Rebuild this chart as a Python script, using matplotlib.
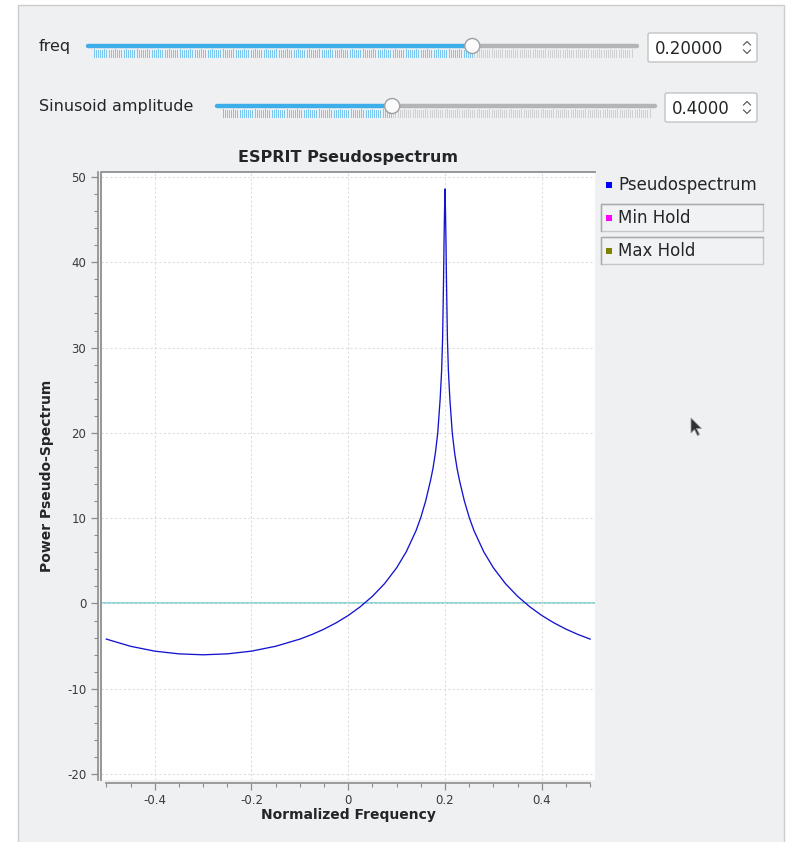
import matplotlib
matplotlib.use('Agg')
from matplotlib import pyplot as plt
from matplotlib.patches import Rectangle, FancyBboxPatch, Circle, Polygon
from matplotlib.collections import LineCollection
from matplotlib.ticker import MultipleLocator

# ESPRIT pseudospectrum (normalized freq, power)
freq = [-0.5, -0.45, -0.4, -0.35, -0.3, -0.25, -0.2, -0.15, -0.1, -0.075,
        -0.05, -0.025, 0.0, 0.025, 0.05, 0.075, 0.1, 0.12, 0.14, 0.15,
        0.16, 0.17, 0.175, 0.18, 0.185, 0.19, 0.193, 0.195, 0.197, 0.198,
        0.199, 0.2, 0.201, 0.202, 0.203, 0.205, 0.207, 0.21, 0.215, 0.22,
        0.225, 0.23, 0.24, 0.25, 0.26, 0.28, 0.3, 0.325, 0.35, 0.375,
        0.4, 0.425, 0.45, 0.475, 0.5]
power = [-4.18, -5.02, -5.59, -5.91, -6.02, -5.91, -5.59, -5.02, -4.18, -3.64,
         -3.01, -2.27, -1.41, -0.38, 0.84, 2.32, 4.18, 6.07, 8.52, 10.09,
         12.02, 14.4, 15.8, 17.6, 20.0, 24.0, 27.3, 31.0, 38.0, 42.5,
         46.0, 48.6, 46.0, 42.5, 38.0, 31.0, 27.3, 24.0, 20.0, 17.6,
         15.8, 14.4, 12.02, 10.09, 8.52, 6.07, 4.18, 2.32, 0.84, -0.38,
         -1.41, -2.27, -3.01, -3.64, -4.18]

legend_names = ['Pseudospectrum', 'Min Hold', 'Max Hold']
legend_colors = ['#0000ff', '#ff00ff', '#808000']

# slider widgets: label, value, range, step, shown text
slider_labels = ['freq', 'Sinusoid amplitude']
slider_values = [0.2, 0.4]
slider_ranges = [(-0.5, 0.5), (0.0, 1.0)]
slider_steps = [0.004, 0.005]
slider_texts = ['0.20000', '0.4000']

W, H = 786, 842
fig = plt.figure(figsize=(W / 100, H / 100), dpi=100, facecolor='white')

# full-window overlay in pixel coordinates for the widget chrome
ui = fig.add_axes([0, 0, 1, 1])
ui.set_xlim(0, W)
ui.set_ylim(H, 0)
ui.axis('off')
ui.set_zorder(0)

ui.add_patch(Rectangle((18, 5), 766, 850, facecolor='#eff0f1',
                       edgecolor='#cbcccd', lw=1.0))

BLUE = '#3daee9'
GREY = '#b4b5b6'

groove = [(88, 637, 46), (217, 655, 106)]
boxes = [(648, 33, 109, 29), (665, 93, 92, 29)]
for i in range(2):
    x0, x1, yg = groove[i]
    lo, hi = slider_ranges[i]
    frac = (slider_values[i] - lo) / (hi - lo)
    xh = x0 + frac * (x1 - x0)
    ui.text(39, yg + 1, slider_labels[i], fontsize=11.5, color='#232627',
            ha='left', va='center')
    # tick comb under the groove, one pixel column per step
    n = int(round((hi - lo) / slider_steps[i]))
    tx0, tx1 = x0 + 5, x1 - 6
    segs, cols = [], []
    for k in range(n + 1):
        tx = int(tx0 + k * (tx1 - tx0) / n) + 0.5
        top = yg + 4 if k % 5 else yg + 3
        segs.append([(tx, top), (tx, yg + 11)])
        cols.append('#7cc6ef' if tx <= xh else '#cfd0d1')
    ui.add_collection(LineCollection(segs, colors=cols, linewidths=0.72,
                                     antialiased=False))
    ui.plot([x0, xh], [yg, yg], color=BLUE, lw=3.2, solid_capstyle='round')
    ui.plot([xh, x1], [yg, yg], color=GREY, lw=3.2, solid_capstyle='round')
    ui.add_patch(Circle((xh, yg), 7.5, facecolor='#fbfbfb',
                        edgecolor='#9fa0a1', lw=1.0, zorder=3))
    bx, by, bw, bh = boxes[i]
    ui.add_patch(FancyBboxPatch((bx, by), bw, bh,
                                boxstyle='round,pad=0,rounding_size=2',
                                facecolor='white', edgecolor='#c2c3c4', lw=1.0))
    ui.text(bx + 7, by + bh / 2 + 1, slider_texts[i], fontsize=12,
            color='#232627', ha='left', va='center')
    cx, cy = bx + bw - 10, by + bh / 2
    ui.plot([cx - 3.5, cx, cx + 3.5], [cy - 2.5, cy - 6, cy - 2.5],
            color='#4d4e4f', lw=0.8)
    ui.plot([cx - 3.5, cx, cx + 3.5], [cy + 2.5, cy + 6, cy + 2.5],
            color='#4d4e4f', lw=0.8)

# legend entries at the right of the canvas
leg_y = [185, 218, 251]
for name, col, ly in zip(legend_names, legend_colors, leg_y):
    if name != legend_names[0]:
        ui.add_patch(Rectangle((600.5, ly - 14), 162.5, 27,
                               facecolor='#f1f2f3', edgecolor='#c6c7c8', lw=1.0))
        ui.plot([600.5, 600.5, 763], [ly + 13, ly - 14, ly - 14],
                color='#a9aaab', lw=1.0)
    ui.add_patch(Rectangle((606, ly - 2.8), 5.5, 5.5, facecolor=col,
                           edgecolor='none'))
    ui.text(618, ly, name, fontsize=12, color='#232627', ha='left',
            va='center')

# mouse pointer
ui.add_patch(Polygon([(691, 418), (691, 433), (694.5, 429.5), (697.5, 435.5),
                      (699.5, 434.5), (696.5, 428.5), (701.5, 428.5)],
                     closed=True, facecolor='#2f3031', edgecolor='#9a9b9c',
                     lw=0.6))

# plot canvas
L, R, T, B = 101, 595, 172, 780
ax = fig.add_axes([L / W, 1 - B / H, (R - L) / W, (B - T) / H])
ax.set_zorder(1)
ax.set_facecolor('white')

ax.plot(freq, power, color='#1414d0', lw=0.95)
ax.axhline(0, color='#7fd1d4', lw=1.3, zorder=1)

ax.set_xlim(-0.511, 0.510)
ax.set_ylim(-20.7, 50.59)

ax.xaxis.set_minor_locator(MultipleLocator(0.05))
ax.yaxis.set_minor_locator(MultipleLocator(2))
ax.set_xticks([-0.4, -0.2, 0, 0.2, 0.4])
ax.set_xticklabels(['-0.4', '-0.2', '0', '0.2', '0.4'])
ax.set_yticks(range(-20, 51, 10))
ax.set_yticklabels([str(v) for v in range(-20, 51, 10)])
ax.grid(True, which='major', color='#dedede', lw=0.8, ls=(0, (2, 2)))

for s in ['top', 'right']:
    ax.spines[s].set_visible(False)
ax.spines['left'].set_position(('outward', 2.2))
ax.spines['bottom'].set_position(('outward', 2.2))
ax.spines['bottom'].set_bounds(-0.5, 0.5)
for s in ['left', 'bottom']:
    ax.spines[s].set_color('#8c8c8c')
    ax.spines[s].set_linewidth(1.2)

# sunken frame on the canvas top and left
ax.plot([0, 0, 1], [0, 1, 1], transform=ax.transAxes, color='#8e8f90',
        lw=1.3, clip_on=False)

ax.tick_params(which='major', direction='out', length=5, width=0.9,
               color='#8c8c8c', labelsize=8.5, labelcolor='#3a3a3a', pad=3)
ax.tick_params(which='minor', direction='out', length=3, width=0.8,
               color='#8c8c8c')
ax.tick_params(axis='y', which='major', pad=3.5)

ax.set_title('ESPRIT Pseudospectrum', fontsize=11.5, fontweight='bold',
             color='#232627', pad=7)
ax.set_xlabel('Normalized Frequency', fontsize=10, fontweight='bold',
              color='#232627')
ax.set_ylabel('Power Pseudo-Spectrum', fontsize=10, fontweight='bold',
              color='#232627')
ax.xaxis.set_label_coords(0.5, -0.046)
ax.yaxis.set_label_coords(-0.095, 0.5)
ax.xaxis.label.set_va('top')

fig.savefig('out.png', dpi=100, facecolor='white')
